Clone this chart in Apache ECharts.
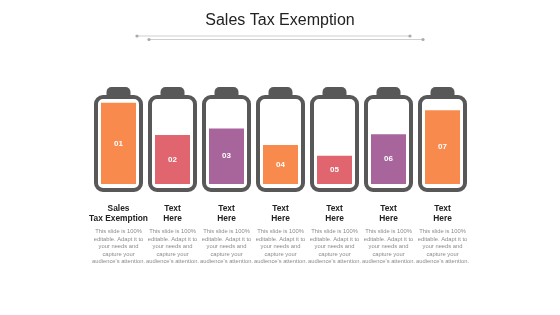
<!DOCTYPE html>
<html>
<head>
<meta charset="utf-8">
<script src="https://cdn.jsdelivr.net/npm/echarts@6/dist/echarts.min.js"></script>
<style>html,body{margin:0;padding:0;background:#fff;}#c{width:560px;height:315px;}</style>
</head>
<body>
<div id="c"></div>
<script>
const categories = ["Sales\nTax Exemption", "Text\nHere", "Text\nHere", "Text\nHere", "Text\nHere", "Text\nHere", "Text\nHere"];
const values = [98, 59, 67, 47, 34, 60, 89];
const barLabels = ["01", "02", "03", "04", "05", "06", "07"];
const capacity = [100, 100, 100, 100, 100, 100, 100];
const barColors = ["#F98A4E", "#E0656F", "#A8659C", "#F98A4E", "#E0656F", "#A8659C", "#F98A4E"];
const description = "This slide is 100%\neditable. Adapt it to\nyour needs and\ncapture your\naudience's attention.";
const titleText = "Sales Tax Exemption";

const chart = echarts.init(document.getElementById('c'), null, {renderer: 'canvas'});
const FONT = 'Liberation Sans, Arial, sans-serif';

chart.setOption({
  backgroundColor: '#fff',
  animation: false,
  title: {
    text: titleText, left: 'center', top: 8,
    textStyle: {fontFamily: FONT, fontSize: 16, fontWeight: 'normal', color: '#222'}
  },
  graphic: [
    {type: 'line', shape: {x1: 137, y1: 36, x2: 410, y2: 36}, style: {stroke: '#cfcfcf', lineWidth: 1}},
    {type: 'line', shape: {x1: 149, y1: 39.5, x2: 423, y2: 39.5}, style: {stroke: '#cfcfcf', lineWidth: 1}},
    {type: 'circle', shape: {cx: 137, cy: 36, r: 1.6}, style: {fill: '#aaa'}},
    {type: 'circle', shape: {cx: 149, cy: 39.5, r: 1.6}, style: {fill: '#aaa'}},
    {type: 'circle', shape: {cx: 410, cy: 36, r: 1.6}, style: {fill: '#aaa'}},
    {type: 'circle', shape: {cx: 423, cy: 39.5, r: 1.6}, style: {fill: '#aaa'}}
  ],
  grid: {left: 91.5, right: 90.5, top: 101, bottom: 131},
  xAxis: {
    type: 'category', data: categories,
    axisLine: {show: false}, axisTick: {show: false},
    axisLabel: {
      interval: 0, margin: 20, verticalAlign: 'top',
      formatter: function (name) {
        const t = name.split('\n').map(l => '{t|' + l + '}').join('\n');
        const d = description.split('\n').map(l => '{d|' + l + '}').join('\n');
        return t + '\n{s| }\n' + d;
      },
      rich: {
        t: {fontFamily: FONT, fontSize: 8.4, fontWeight: 'bold', color: '#222', lineHeight: 10, align: 'center'},
        s: {fontFamily: FONT, fontSize: 2, lineHeight: 4, align: 'center'},
        d: {fontFamily: FONT, fontSize: 5.8, color: '#8c8c8c', lineHeight: 7.5, align: 'center'}
      }
    }
  },
  yAxis: {type: 'value', min: 0, max: 100, show: false, splitLine: {show: false}},
  series: [
    {
      type: 'custom',
      data: capacity.map((v, i) => [i, v]),
      encode: {x: 0, y: 1},
      z: 1,
      silent: true,
      renderItem: function (params, api) {
        const top = api.coord([api.value(0), api.value(1)]);
        const bot = api.coord([api.value(0), 0]);
        const cx = top[0];
        return {
          type: 'group',
          children: [
            {type: 'rect', shape: {x: cx - 22.5, y: top[1] - 4, width: 45, height: bot[1] - top[1] + 10, r: 7},
             style: {fill: 'transparent', stroke: '#585858', lineWidth: 4}},
            {type: 'rect', shape: {x: cx - 12, y: top[1] - 14, width: 24, height: 8, r: [5, 5, 0, 0]},
             style: {fill: '#585858'}}
          ]
        };
      }
    },
    {
      type: 'bar',
      z: 2,
      barWidth: 35,
      data: values.map((v, i) => ({value: v, itemStyle: {color: barColors[i]}})),
      label: {
        show: true, position: 'inside',
        formatter: p => barLabels[p.dataIndex],
        color: '#fff', fontFamily: FONT, fontSize: 8, fontWeight: 'bold'
      }
    }
  ]
});
</script>
</body>
</html>
